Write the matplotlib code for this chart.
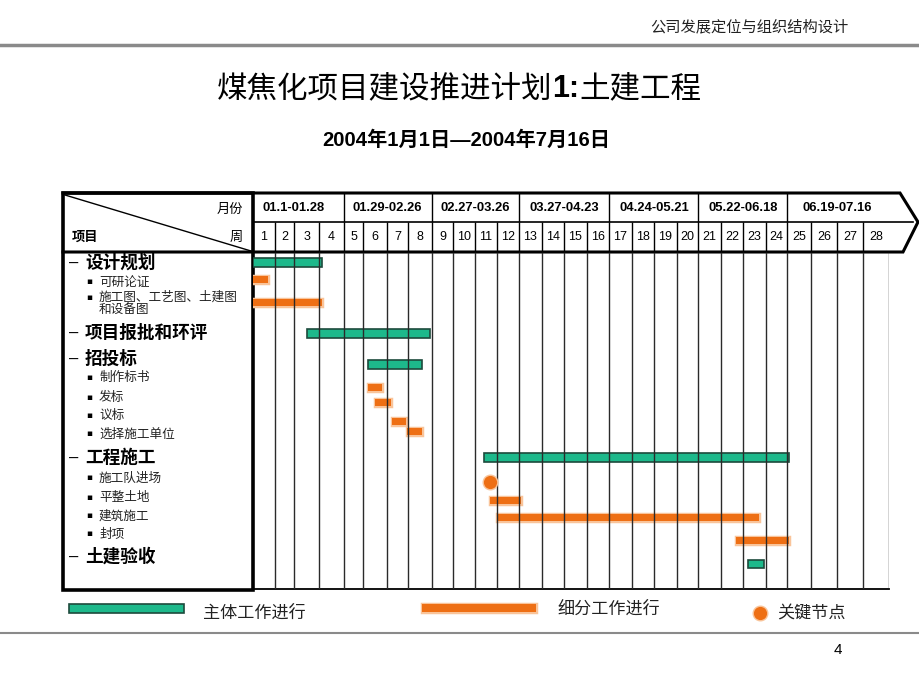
import numpy as np
import matplotlib.pyplot as plt
import matplotlib.patheffects as pe
from matplotlib.patches import Rectangle

plt.rcParams['font.family'] = ['Noto Sans CJK SC', 'DejaVu Sans']

# 数据
months = ['01.1-01.28', '01.29-02.26', '02.27-03.26', '03.27-04.23',
          '04.24-05.21', '05.22-06.18', '06.19-07.16']
weeks = list(range(1, 29))
tasks = ['设计规划', '可研论证', '施工图、工艺图、土建图\n和设备图', '项目报批和环评',
         '招投标', '制作标书', '发标', '议标', '选择施工单位',
         '工程施工', '施工队进场', '平整土地', '建筑施工', '封项', '土建验收']
kinds = ['main', 'sub', 'sub', 'main', 'main', 'sub', 'sub', 'sub', 'sub',
         'main', 'node', 'sub', 'sub', 'sub', 'main']
starts = [0, 0, 0, 2.5, 5.2, 5.2, 5.5, 6.25, 6.95, 10.4, 10.7, 10.7, 11.0, 21.7, 22.2]
ends = [3.1, 0.7, 3.1, 7.9, 7.6, 5.8, 6.2, 6.9, 7.6, 24.1, 10.7, 12.1, 22.7, 24.1, 22.9]

# 版面 (像素)
week_edges = [253, 275, 294, 319, 344, 363, 387, 408, 432, 453, 475, 497, 519, 542,
              564, 587, 609, 632, 654, 677, 698, 721, 743, 766, 787, 811, 837, 863, 889]
text_y = [263, 282, 297, 333, 359, 378, 397, 415, 434, 458, 478, 497, 516, 534, 557]
bar_y = [262, 279, 302, 333, 364, 387, 402, 421, 431, 457, 482, 500, 517, 540, 564]

green, green_edge = '#1db98b', '#1d4a3c'
orange, glow = '#ee6f14', '#f9c49a'

fig = plt.figure(figsize=(9.2, 6.9), dpi=100)
base = fig.add_axes([0, 0, 1, 1])
base.set_xlim(0, 920)
base.set_ylim(690, 0)
base.axis('off')

# 页眉
base.plot([0, 920], [45, 45], color='#8a8a8a', lw=2.5)
base.text(848, 27, '公司发展定位与组织结构设计', ha='right', va='center', fontsize=11, color='#222')
base.plot([0, 920], [633, 633], color='#8a8a8a', lw=1.5)
base.text(838, 650, '4', ha='center', va='center', fontsize=11, family=['Liberation Sans'])

# 标题
t1 = base.text(217, 89, '煤焦化项目建设推进计划', ha='left', va='center', fontsize=22)
t2 = base.annotate('1:', xy=(1, 0.5), xycoords=t1, ha='left', va='center', fontsize=22,
                   fontweight='bold', family=['Liberation Sans'])
base.annotate('土建工程', xy=(1, 0.5), xycoords=t2, ha='left', va='center', fontsize=22)
base.text(466, 140, '2004年1月1日—2004年7月16日', ha='center', va='center', fontsize=14.6,
          fontweight='bold', family=['Liberation Sans', 'Noto Sans CJK SC'])

# 表头与左栏框线
base.plot([63, 900, 918, 903, 63], [193, 193, 222, 252, 252], color='black', lw=2.2,
          solid_joinstyle='miter')
base.plot([253, 913], [222, 222], color='black', lw=1.2)
base.add_patch(Rectangle((63, 193), 190, 397, fill=False, ec='black', lw=2.6))
base.plot([65, 251], [195, 251], color='black', lw=1)
base.plot([253, 889], [589, 589], color='black', lw=1.3)
base.text(243, 209, '月份', ha='right', va='center', fontsize=9.5)
base.text(72, 237, '项目', ha='left', va='center', fontsize=9.5, fontweight='bold')
base.text(243, 237, '周', ha='right', va='center', fontsize=9.5)

# 左栏任务
for name, kind, y in zip(tasks, kinds, text_y):
    if kind == 'main':
        base.text(69, y, '–', ha='left', va='center', fontsize=12, family=['Liberation Sans'])
        base.text(85, y, name, ha='left', va='center', fontsize=12.7, fontweight='bold')
    else:
        base.text(89, y, '▪', ha='center', va='center', fontsize=6.5, family=['DejaVu Sans'])
        for k, line in enumerate(name.split('\n')):
            base.text(99, y + 13 * k, line, ha='left', va='center', fontsize=9.1, color='#222')

# 甘特图区
fwd = lambda w: np.interp(w, np.arange(29), week_edges)
inv = lambda p: np.interp(p, week_edges, np.arange(29))
gx = fig.add_axes([253 / 920, 1 - 589 / 690, (889 - 253) / 920, (589 - 193) / 690])
gx.set_xscale('function', functions=(fwd, inv))
gx.set_xlim(0, 28)
gx.set_ylim(589, 193)
gx.axis('off')
gx.patch.set_alpha(0)

gx.vlines(weeks, 252, 589, colors='#2a2a2a', lw=1)
gx.vlines(weeks[:-1], 222, 252, colors='black', lw=1)
gx.vlines(weeks[3:-1:4], 193, 222, colors='black', lw=1)
for w in weeks:
    gx.text(w - 0.5, 237, str(w), ha='center', va='center', fontsize=9,
            family=['Liberation Sans'])
for i, m in enumerate(months):
    gx.text(4 * i + 2, 208, m, ha='center', va='center', fontsize=9.4,
            fontweight='bold', family=['Liberation Sans'])

for kind, s, e, y in zip(kinds, starts, ends, bar_y):
    if kind == 'main':
        gx.barh(y, e - s, left=s, height=9 if e - s > 1.5 else 7.5, color=green,
                edgecolor=green_edge, lw=1.2)
    elif kind == 'sub':
        gx.barh(y, e - s, left=s, height=7, color=orange, lw=0,
                path_effects=[pe.Stroke(linewidth=2.5, foreground=glow), pe.Normal()])
    else:
        gx.plot(s, y, 'o', ms=10.5, color=orange, mec=glow, mew=1, clip_on=False)

# 图例
base.add_patch(Rectangle((69, 604), 115, 9, fc=green, ec=green_edge, lw=1.2))
base.text(203, 613, '主体工作进行', ha='left', va='center', fontsize=12.3, color='#222')
base.add_patch(Rectangle((422, 604), 114, 8, fc=orange, lw=0,
                         path_effects=[pe.Stroke(linewidth=2.5, foreground=glow), pe.Normal()]))
base.text(557, 609, '细分工作进行', ha='left', va='center', fontsize=12.3, color='#222')
base.plot(760, 613, 'o', ms=10.5, color=orange, mec=glow, mew=1)
base.text(777, 614, '关键节点', ha='left', va='center', fontsize=12.3, color='#222')

fig.savefig('out.png', dpi=100)
